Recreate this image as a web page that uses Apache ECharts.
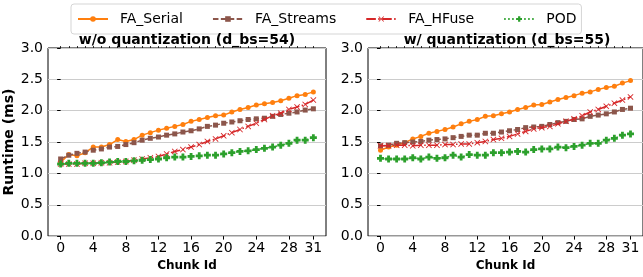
<!DOCTYPE html>
<html>
<head>
<meta charset="utf-8">
<script src="https://cdn.jsdelivr.net/npm/echarts@6/dist/echarts.min.js"></script>
<style>
  html, body { margin: 0; padding: 0; background: #fff; }
  #chart { width: 643px; height: 277px; }
</style>
</head>
<body>
<div id="chart"></div>
<script>
// chunk ids 0..31
var chunkIds = [0,1,2,3,4,5,6,7,8,9,10,11,12,13,14,15,16,17,18,19,20,21,22,23,24,25,26,27,28,29,30,31];
var xTickLabels = [0, 4, 8, 12, 16, 20, 24, 28, 31];

var panelTitles = ['w/o quantization (d_bs=54)', 'w/ quantization (d_bs=55)'];
var seriesNames = ['FA_Serial', 'FA_Streams', 'FA_HFuse', 'POD'];

// w/o quantization
var serialNoQ  = [1.18,1.30,1.28,1.33,1.42,1.42,1.46,1.54,1.51,1.54,1.61,1.65,1.69,1.72,1.75,1.78,1.83,1.86,1.89,1.92,1.93,1.98,2.02,2.05,2.09,2.11,2.13,2.16,2.20,2.24,2.26,2.30];
var streamsNoQ = [1.23,1.29,1.32,1.34,1.37,1.39,1.42,1.43,1.46,1.49,1.53,1.56,1.58,1.61,1.63,1.66,1.68,1.71,1.75,1.77,1.80,1.82,1.84,1.86,1.87,1.88,1.91,1.94,1.96,1.98,2.01,2.03];
var hfuseNoQ   = [1.15,1.15,1.15,1.16,1.16,1.17,1.17,1.18,1.19,1.21,1.23,1.25,1.27,1.31,1.35,1.38,1.42,1.46,1.51,1.55,1.60,1.65,1.70,1.75,1.80,1.86,1.92,1.96,2.02,2.06,2.10,2.17];
var podNoQ     = [1.15,1.16,1.16,1.16,1.16,1.17,1.18,1.19,1.19,1.20,1.21,1.22,1.23,1.25,1.26,1.26,1.27,1.28,1.29,1.29,1.31,1.33,1.35,1.36,1.38,1.40,1.42,1.45,1.48,1.53,1.53,1.57];

// w/ quantization
var serialQ  = [1.37,1.42,1.45,1.49,1.55,1.59,1.64,1.67,1.70,1.74,1.79,1.83,1.86,1.91,1.92,1.95,1.98,2.02,2.05,2.09,2.10,2.14,2.18,2.21,2.24,2.28,2.30,2.34,2.37,2.39,2.44,2.48];
var streamsQ = [1.44,1.45,1.48,1.49,1.50,1.51,1.53,1.54,1.55,1.57,1.59,1.61,1.61,1.64,1.64,1.66,1.68,1.70,1.73,1.74,1.75,1.78,1.81,1.83,1.86,1.87,1.91,1.93,1.95,1.98,2.02,2.04];
var hfuseQ   = [1.44,1.44,1.45,1.45,1.44,1.45,1.45,1.45,1.46,1.46,1.47,1.47,1.49,1.51,1.54,1.56,1.59,1.63,1.67,1.71,1.73,1.75,1.79,1.83,1.87,1.92,1.98,2.02,2.07,2.12,2.17,2.22];
var podQ     = [1.24,1.23,1.23,1.23,1.25,1.23,1.26,1.24,1.25,1.29,1.26,1.30,1.29,1.29,1.33,1.33,1.34,1.35,1.34,1.38,1.39,1.39,1.42,1.41,1.43,1.45,1.48,1.48,1.53,1.56,1.61,1.63];

var colors = ['#ff7f0e', '#8c564b', '#d62728', '#2ca02c'];
var lineTypes = ['solid', [5.5, 2.4], [9.6, 2.4, 1.5, 2.4], [1.5, 2.5]];
var symbols = [
  'circle',
  'rect',
  'path://M0,1L1,0L5,4L9,0L10,1L6,5L10,9L9,10L5,6L1,10L0,9L4,5Z',
  'path://M3,0L7,0L7,3L10,3L10,7L7,7L7,10L3,10L3,7L0,7L0,3L3,3Z'
];
var symbolSizes = [5, 5, 6, 7];

function pairs(vals) {
  var out = [];
  for (var i = 0; i < vals.length; i++) out.push([chunkIds[i], vals[i]]);
  return out;
}

var font = 'DejaVu Sans';
var gridBoxes = [{ left: 48, top: 48, width: 278, height: 189 }, { left: 368, top: 48, width: 278, height: 189 }];
var titleCenters = [187, 507];

var grids = [], xAxes = [], yAxes = [], titles = [], series = [];
var panelData = [[serialNoQ, streamsNoQ, hfuseNoQ, podNoQ], [serialQ, streamsQ, hfuseQ, podQ]];

for (var g = 0; g < 2; g++) {
  grids.push({
    left: gridBoxes[g].left, top: gridBoxes[g].top,
    width: gridBoxes[g].width, height: gridBoxes[g].height,
    show: true, borderColor: '#000', borderWidth: 1, backgroundColor: 'transparent'
  });
  titles.push({
    text: panelTitles[g], left: titleCenters[g], top: 33, textAlign: 'center', padding: 0,
    textStyle: { fontFamily: font, fontWeight: 'bold', fontSize: 14, color: '#000' }
  });
  // main x axis: labels + major ticks
  xAxes.push({
    type: 'value', gridIndex: g, min: -1.55, max: 32.55,
    name: 'Chunk Id', nameLocation: 'middle', nameGap: 11,
    nameTextStyle: { fontFamily: font, fontWeight: 'bold', fontSize: 12, color: '#000' },
    axisLine: { show: false },
    axisTick: { show: true, customValues: xTickLabels, length: 3.5, lineStyle: { color: '#000', width: 1 } },
    axisLabel: { customValues: xTickLabels, margin: 5, fontFamily: font, fontSize: 14, color: '#000' },
    splitLine: { show: false }
  });
  // minor ticks at every chunk
  xAxes.push({
    type: 'value', gridIndex: g, min: -1.55, max: 32.55,
    axisLine: { show: false },
    axisTick: { show: true, customValues: chunkIds, length: 2, lineStyle: { color: '#000', width: 0.8 } },
    axisLabel: { show: false },
    splitLine: { show: false }
  });
  yAxes.push({
    type: 'value', gridIndex: g, min: 0, max: 3, interval: 0.5,
    name: g === 0 ? 'Runtime (ms)' : '', nameLocation: 'middle', nameGap: 26,
    nameTextStyle: { fontFamily: font, fontWeight: 'bold', fontSize: 14, color: '#000' },
    axisLine: { show: false },
    axisTick: { show: true, length: 3.5, lineStyle: { color: '#000', width: 1 } },
    axisLabel: { margin: 5, fontFamily: font, fontSize: 14, color: '#000',
      formatter: function (v) { return v.toFixed(1); } },
    splitLine: { show: true, lineStyle: { color: '#cccccc', width: 1.2 } }
  });
  for (var s = 0; s < 4; s++) {
    series.push({
      name: seriesNames[s], type: 'line', xAxisIndex: g * 2, yAxisIndex: g,
      data: pairs(panelData[g][s]),
      symbol: symbols[s], symbolSize: symbolSizes[s], showSymbol: true,
      lineStyle: { color: colors[s], width: 1.5, type: lineTypes[s] },
      itemStyle: { color: colors[s] },
      animation: false, z: 3 + s
    });
  }
}

var chart = echarts.init(document.getElementById('chart'), null, { renderer: 'canvas' });
chart.setOption({
  animation: false,
  color: colors,
  title: titles,
  legend: {
    data: seriesNames, left: 71, top: 4,
    itemWidth: 30, itemHeight: 7, itemGap: 29,
    padding: [8, 5, 8, 6],
    borderColor: '#d5d5d5', borderWidth: 1, borderRadius: 3,
    textStyle: { fontFamily: font, fontSize: 14, color: '#000', padding: [0, 0, 0, 7] }
  },
  grid: grids,
  xAxis: xAxes,
  yAxis: yAxes,
  series: series
});
</script>
</body>
</html>
